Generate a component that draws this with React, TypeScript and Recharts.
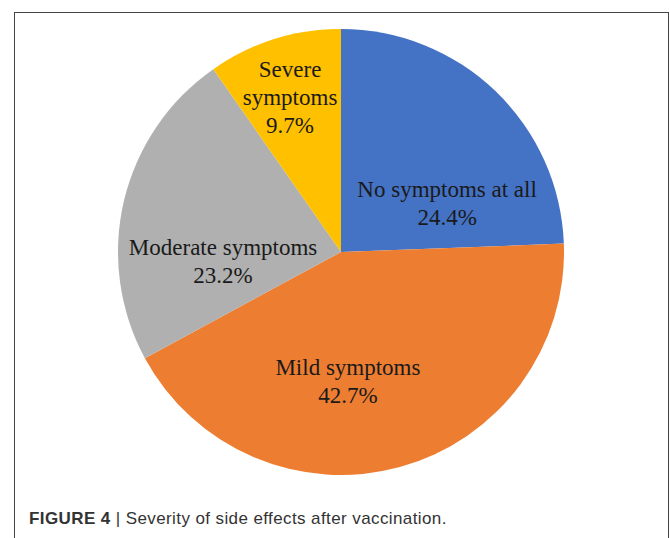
import React from "react";
import { Cell, Pie, PieChart } from "recharts";

const categories = ["No symptoms at all", "Mild symptoms", "Moderate symptoms", "Severe symptoms"];
const shares = [24.4, 42.7, 23.2, 9.7];
const colors = ["#4472C4", "#ED7D31", "#B0B0B0", "#FFC000"];

// where each label sits: polar angle (deg, ccw from 3 o'clock) and fraction of the radius
const labelSpots = [
  { angle: 21.1, frac: 0.51, wrap: false },
  { angle: -87.1, frac: 0.615, wrap: false },
  { angle: -172.0, frac: 0.534, wrap: false },
  { angle: 109.1, frac: 0.698, wrap: true },
];

const data = categories.map((name, i) => ({ name, value: shares[i] }));

const LINE_H = 28;

function renderLabel(props: any) {
  const { cx, cy, outerRadius, index, name, value } = props;
  const spot = labelSpots[index];
  const rad = (spot.angle * Math.PI) / 180;
  const x = cx + outerRadius * spot.frac * Math.cos(rad);
  const y = cy - outerRadius * spot.frac * Math.sin(rad);
  const lines = spot.wrap ? [...String(name).split(" "), `${value}%`] : [String(name), `${value}%`];
  const top = y - ((lines.length - 1) * LINE_H) / 2;
  return (
    <text
      key={`lbl-${index}`}
      x={x}
      y={top}
      textAnchor="middle"
      fill="#1a1a1a"
      fontFamily="'Liberation Serif', serif"
      fontSize={23}
    >
      {lines.map((t, i) => (
        <tspan key={i} x={x} y={top + i * LINE_H}>
          {t}
        </tspan>
      ))}
    </text>
  );
}

export default function App() {
  return (
    <div style={{ position: "absolute", left: 0, top: 0, width: 670, height: 538, overflow: "hidden", background: "#fff" }}>
      <div
        style={{
          position: "absolute",
          left: 14,
          top: 12,
          width: 653,
          height: 560,
          border: "1px solid #444",
        }}
      />
      <div style={{ position: "absolute", left: 0, top: 0 }}>
        <PieChart width={670} height={538} margin={{ top: 0, right: 0, bottom: 0, left: 0 }}>
          <Pie
            data={data}
            dataKey="value"
            nameKey="name"
            cx={341}
            cy={252}
            outerRadius={223}
            startAngle={90}
            endAngle={-270}
            stroke="none"
            labelLine={false}
            label={renderLabel}
            isAnimationActive={false}
          >
            {data.map((d, i) => (
              <Cell key={d.name} fill={colors[i]} stroke="none" />
            ))}
          </Pie>
        </PieChart>
      </div>
      <div
        style={{
          position: "absolute",
          left: 29,
          top: 509,
          fontFamily: "'Liberation Sans', Arial, sans-serif",
          fontSize: 17,
          letterSpacing: 0.4,
          color: "#333",
          whiteSpace: "nowrap",
          lineHeight: "20px",
        }}
      >
        <b>FIGURE 4</b> | Severity of side effects after vaccination.
      </div>
    </div>
  );
}
